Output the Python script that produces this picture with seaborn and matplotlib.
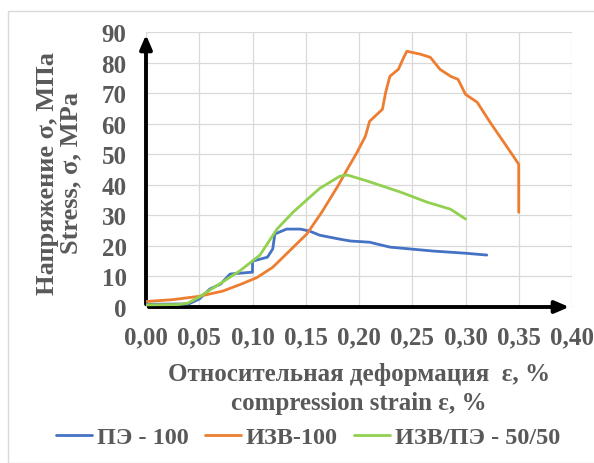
import matplotlib
matplotlib.use("Agg")
import matplotlib.pyplot as plt
import seaborn as sns
import pandas as pd
from matplotlib.patches import Rectangle

# ---- data ----
pe_x = [0.000, 0.040, 0.050, 0.060, 0.070, 0.079, 0.100, 0.100, 0.114, 0.119, 0.121, 0.132,
        0.145, 0.154, 0.163, 0.182, 0.192, 0.210, 0.229, 0.270, 0.300, 0.320]
pe_y = [0.9, 1.0, 2.6, 5.9, 7.5, 10.8, 11.4, 15.0, 16.3, 19.0, 23.9, 25.5,
        25.5, 24.8, 23.5, 22.2, 21.6, 21.2, 19.6, 18.3, 17.6, 17.0]

izv_x = [0.000, 0.025, 0.050, 0.072, 0.088, 0.104, 0.119, 0.151, 0.165, 0.180, 0.190, 0.198,
         0.206, 0.210, 0.222, 0.225, 0.229, 0.237, 0.242, 0.245, 0.258, 0.267, 0.276, 0.286,
         0.293, 0.300, 0.311, 0.323, 0.336, 0.345, 0.350, 0.350]
izv_y = [1.8, 2.4, 3.5, 5.2, 7.3, 9.6, 13.0, 23.9, 31.0, 39.5, 45.7, 50.5,
         55.9, 60.8, 64.7, 70.2, 75.5, 77.8, 81.7, 83.7, 82.7, 81.7, 77.8, 75.5,
         74.5, 69.6, 67.0, 60.5, 53.9, 49.3, 46.7, 31.0]

mix_x = [0.000, 0.030, 0.039, 0.050, 0.072, 0.088, 0.107, 0.123, 0.138, 0.154, 0.163, 0.182,
         0.189, 0.208, 0.239, 0.264, 0.286, 0.300]
mix_y = [0.7, 0.8, 1.2, 3.3, 8.2, 11.8, 17.0, 25.5, 31.0, 36.0, 38.8, 42.8,
         43.2, 41.2, 37.6, 34.3, 32.0, 28.8]

names = ["ПЭ - 100", "ИЗВ-100", "ИЗВ/ПЭ - 50/50"]
colors = ["#4472C4", "#ED7D31", "#92D050"]
x_ticks = [0.00, 0.05, 0.10, 0.15, 0.20, 0.25, 0.30, 0.35, 0.40]
x_tick_labels = ["0,00", "0,05", "0,10", "0,15", "0,20", "0,25", "0,30", "0,35", "0,40"]
y_ticks = [0, 10, 20, 30, 40, 50, 60, 70, 80, 90]

rows = []
for name, xs, ys in zip(names, [pe_x, izv_x, mix_x], [pe_y, izv_y, mix_y]):
    for i, (a, b) in enumerate(zip(xs, ys)):
        rows.append({"series": name, "x": a, "y": b, "order": i})
df = pd.DataFrame(rows)

sns.set_theme(style="white")
plt.rcParams["font.family"] = ["Liberation Serif", "DejaVu Serif"]
plt.rcParams["font.weight"] = "bold"
tc = "#595959"

fig = plt.figure(figsize=(5.94, 4.64), dpi=100)
ax = fig.add_axes([146 / 594, 1 - 308 / 464, (572 - 146) / 594, (308 - 33) / 464])

# arrow axes (drawn first, lines go on top)
ax.annotate("", xy=(0, 1.0), xytext=(0, 0), xycoords="axes fraction",
            arrowprops=dict(arrowstyle="-|>,head_length=0.7,head_width=0.3", color="black", lw=2.8),
            annotation_clip=False, zorder=1.5)
ax.annotate("", xy=(1.0, 0), xytext=(0, 0), xycoords="axes fraction",
            arrowprops=dict(arrowstyle="-|>,head_length=0.7,head_width=0.3", color="black", lw=2.8),
            annotation_clip=False, zorder=1.5)

sns.lineplot(data=df, x="x", y="y", hue="series", units="series", estimator=None,
             sort=False, palette=dict(zip(names, colors)), linewidth=2.0, ax=ax, legend=True,
             zorder=3)

ax.set_xlim(0, 0.40)
ax.set_ylim(0, 90)
ax.set_xticks(x_ticks)
ax.set_xticklabels(x_tick_labels)
ax.set_yticks(y_ticks)
ax.grid(True, color="#d9d9d9", linewidth=0.9)
ax.set_axisbelow(True)
for s in ax.spines.values():
    s.set_visible(False)
ax.tick_params(axis="x", length=0, labelsize=18, colors=tc, pad=13)
ax.tick_params(axis="y", length=0, labelsize=18, colors=tc, pad=14)
for lab in ax.get_xticklabels() + ax.get_yticklabels():
    lab.set_fontweight("bold")

ax.set_xlabel("Относительная деформация  ε, %\ncompression strain ε, %",
              fontsize=18, fontweight="bold", color=tc, linespacing=1.32)
ax.xaxis.set_label_coords(0.5, -0.2)
ax.set_ylabel("Напряжение σ, МПа\nStress, σ, МPa", fontsize=19, fontweight="bold",
              color=tc, linespacing=1.0)
ax.yaxis.set_label_coords(-0.15, 0.49)

handles, labels = ax.get_legend_handles_labels()
ax.legend_.remove()
fig.legend(handles, labels, loc="center", bbox_to_anchor=(308 / 594, 1 - 438 / 464), ncol=3,
           frameon=False, handlelength=1.5, handletextpad=0.2, columnspacing=0.65,
           labelcolor=tc, prop={"weight": "bold", "size": 17.5, "family": "Liberation Serif"})

fig.patches.append(Rectangle((8 / 594, 0), 1, 1 - 12 / 464, transform=fig.transFigure,
                             fill=False, edgecolor="#d9d9d9", linewidth=1.0))

fig.savefig("out.png", dpi=100)
